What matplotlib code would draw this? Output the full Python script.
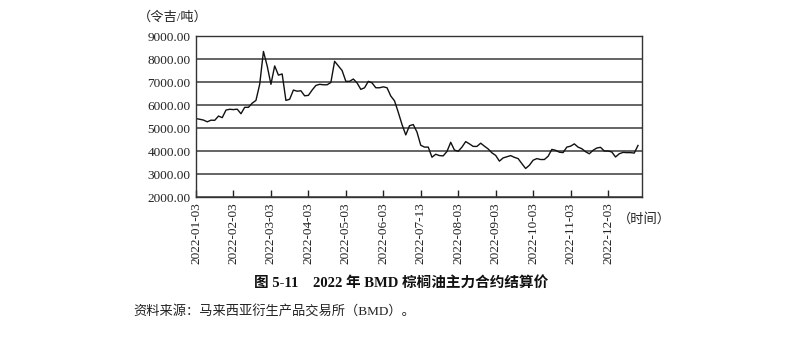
import numpy as np
import matplotlib.pyplot as plt

# BMD palm oil front-month settlement, one reading every two trading days (MYR/t)
price = [
    5410, 5380, 5345, 5270, 5340, 5335, 5520, 5450, 5780, 5815,
    5800, 5820, 5620, 5900, 5900, 6080, 6200, 6900, 8330, 7700,
    6900, 7700, 7300, 7350, 6200, 6250, 6650, 6600, 6620, 6400,
    6420, 6650, 6850, 6900, 6880, 6880, 6980, 7900, 7700, 7500,
    7030, 7030, 7130, 6960, 6680, 6750, 7030, 6960, 6750, 6750,
    6790, 6750, 6390, 6180, 5680, 5150, 4700, 5100, 5150, 4820,
    4250, 4170, 4170, 3730, 3860, 3800, 3790, 3980, 4380, 4040,
    3990, 4170, 4410, 4310, 4200, 4200, 4340, 4210, 4090, 3920,
    3810, 3560, 3700, 3750, 3800, 3725, 3670, 3450, 3240, 3380,
    3600, 3670, 3630, 3630, 3770, 4070, 4030, 3950, 3930, 4170,
    4210, 4310, 4170, 4100, 3970, 3880, 4030, 4130, 4160, 4000,
    4000, 3960, 3740, 3880, 3940, 3930, 3930, 3910, 4240,
]
date_labels = [
    '2022-01-03', '2022-02-03', '2022-03-03', '2022-04-03',
    '2022-05-03', '2022-06-03', '2022-07-13', '2022-08-03',
    '2022-09-03', '2022-10-03', '2022-11-03', '2022-12-03',
]
label_every = 10  # samples between date labels
y_ticks = [2000, 3000, 4000, 5000, 6000, 7000, 8000, 9000]

# serif for digits and Latin letters, CJK glyphs fall through to Noto
fonts = ['Liberation Serif', 'Noto Sans CJK SC']
plt.rcParams['font.family'] = fonts

fig = plt.figure(figsize=(8.06, 3.44), dpi=100)
ax = fig.add_axes([0.2432, 0.4273, 0.5530, 0.4680])

x = np.arange(len(price))
ax.plot(x, price, color='#111111', lw=1.0)

ax.set_xlim(0, 119)
ax.set_ylim(2000, 9000)
ax.set_yticks(y_ticks)
ax.set_yticklabels([f'{v:.2f}' for v in y_ticks], fontsize=9.5)
ax.set_xticks(np.arange(len(date_labels)) * label_every)
ax.set_xticklabels(date_labels, rotation=90, fontsize=9.5)
ax.tick_params(axis='x', direction='in', length=5, width=1, pad=4, colors='#222222')
ax.tick_params(axis='y', length=0, pad=4, colors='#222222')
ax.grid(axis='y', color='#3a3a3a', lw=1.1)
ax.set_axisbelow(True)
for s in ax.spines.values():
    s.set_color('#333333')
    s.set_linewidth(1)

fig.text(138 / 806, 1 - 17 / 344, '（令吉/吨）', fontsize=9.5,
         ha='left', va='center', color='#222222')
fig.text(618 / 806, 1 - 219 / 344, '（时间）', fontsize=9.5,
         ha='left', va='center', color='#222222')
fig.text(401 / 806, 1 - 283 / 344, '图 5-11　2022 年 BMD 棕榈油主力合约结算价',
         fontsize=10.5, fontweight='bold', ha='center', va='center',
         color='#111111')
fig.text(133 / 806, 1 - 311 / 344, '资料来源：马来西亚衍生产品交易所（BMD）。',
         fontsize=9.5, ha='left', va='center', color='#222222')

fig.savefig('out.png', dpi=100)
